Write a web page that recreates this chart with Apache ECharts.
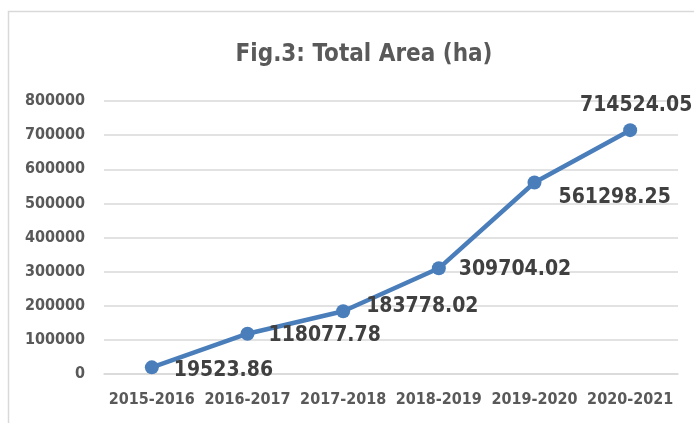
<!DOCTYPE html>
<html><head><meta charset="utf-8">
<script src="https://cdn.jsdelivr.net/npm/echarts@6/dist/echarts.min.js"></script>
<style>html,body{margin:0;padding:0;background:#fff}#c{width:694px;height:423px}</style>
</head><body><div id="c"></div>
<script>
const categories = ['2015-2016','2016-2017','2017-2018','2018-2019','2019-2020','2020-2021'];
const totalArea = [19523.86, 118077.78, 183778.02, 309704.02, 561298.25, 714524.05];
const yTicks = [0,100000,200000,300000,400000,500000,600000,700000,800000];

const FONT = '"DejaVu Sans Condensed","Liberation Sans Narrow","Arial Narrow",sans-serif';
const labelPos = [
  {position:'right', offset:[10,3]},
  {position:'right', offset:[9,2]},
  {position:'right', offset:[11,-5]},
  {position:'right', offset:[8,1]},
  {position:'right', offset:[12,15]},
  {position:'top', offset:[6,-2]}
];
const chart = echarts.init(document.getElementById('c'));
chart.setOption({
  animation:false,
  graphic:[{type:'rect', shape:{x:8.5,y:11.5,width:700,height:430}, style:{fill:'none',stroke:'#d9d9d9',lineWidth:1.5}}],
  title:{text:'Fig.3: Total Area (ha)', left:359, top:38, textAlign:'center',
    textStyle:{fontFamily:FONT,fontSize:24,fontWeight:'bold',color:'#595959'}},
  grid:{left:104,right:16,top:101,bottom:49},
  xAxis:{type:'category',data:categories,boundaryGap:true,
    axisLine:{show:true,lineStyle:{color:'#d9d9d9',width:1.5}},axisTick:{show:false},
    axisLabel:{interval:0,fontFamily:FONT,fontSize:16,fontWeight:'bold',color:'#595959',margin:18}},
  yAxis:{type:'value',min:yTicks[0],max:yTicks[yTicks.length-1],interval:100000,
    axisLine:{show:false},axisTick:{show:false},
    splitLine:{lineStyle:{color:'#d9d9d9',width:1.5}},
    axisLabel:{formatter:v=>String(v),fontFamily:FONT,fontSize:16,fontWeight:'bold',color:'#595959',margin:19}},
  series:[{type:'line',data:totalArea.map((v,i)=>({value:v,label:labelPos[i]})),
    symbol:'circle',symbolSize:14,
    lineStyle:{color:'#4a7ebb',width:4.5},itemStyle:{color:'#4a7ebb'},
    label:{show:true,fontFamily:FONT,fontSize:21,fontWeight:'bold',color:'#404040',
      formatter:p=>p.value.toFixed(2)}}]
});
</script></body></html>
